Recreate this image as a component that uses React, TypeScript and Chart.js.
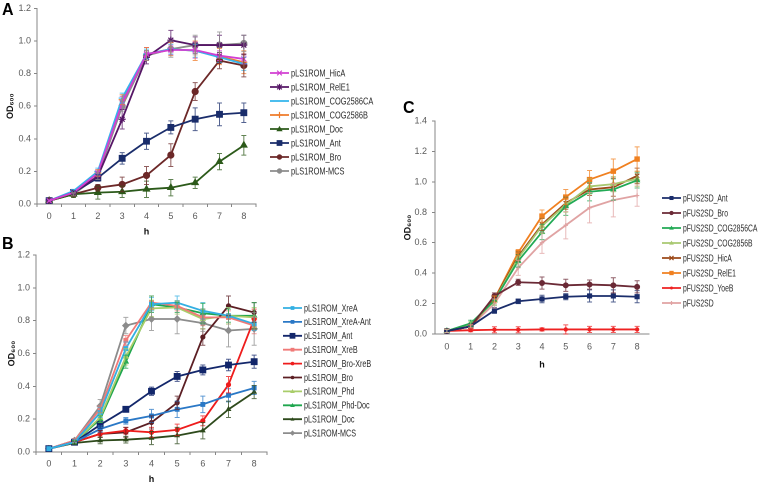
import React, { useEffect, useRef } from "react";
import { Chart, registerables } from "chart.js";

Chart.register(...registerables);

const FONT = '"Liberation Sans", Arial, Helvetica, sans-serif';

// ---------- shared categories ----------
const hours = ["0", "1", "2", "3", "4", "5", "6", "7", "8"];

// ---------- Panel A ----------
const aHicA = [0.02, 0.07, 0.19, 0.62, 0.92, 0.945, 0.945, 0.91, 0.89];
const aHicAErr = [0, 0.01, 0.02, 0.04, 0.04, 0.03, 0.05, 0.03, 0.03];
const aRelE1 = [0.02, 0.07, 0.17, 0.52, 0.9, 1.005, 0.975, 0.975, 0.975];
const aRelE1Err = [0, 0.01, 0.02, 0.06, 0.04, 0.06, 0.05, 0.06, 0.06];
const aCOG2586CA = [0.02, 0.08, 0.2, 0.65, 0.92, 0.95, 0.94, 0.9, 0.86];
const aCOG2586CAErr = [0, 0.01, 0.02, 0.03, 0.03, 0.03, 0.04, 0.03, 0.04];
const aCOG2586B = [0.02, 0.07, 0.19, 0.64, 0.92, 0.95, 0.94, 0.905, 0.87];
const aCOG2586BErr = [0, 0.01, 0.02, 0.03, 0.04, 0.04, 0.06, 0.05, 0.07];
const aDoc = [0.02, 0.06, 0.07, 0.075, 0.09, 0.1, 0.13, 0.26, 0.36];
const aDocErr = [0, 0.02, 0.04, 0.035, 0.05, 0.05, 0.035, 0.05, 0.06];
const aAnt = [0.02, 0.07, 0.16, 0.28, 0.385, 0.47, 0.52, 0.55, 0.56];
const aAntErr = [0, 0.01, 0.02, 0.035, 0.05, 0.04, 0.07, 0.07, 0.06];
const aBro = [0.02, 0.06, 0.1, 0.12, 0.175, 0.3, 0.69, 0.88, 0.85];
const aBroErr = [0, 0.01, 0.02, 0.045, 0.055, 0.07, 0.055, 0.05, 0.07];
const aMCS = [0.02, 0.06, 0.17, 0.6, 0.91, 0.95, 0.975, 0.975, 0.985];
const aMCSErr = [0, 0.01, 0.02, 0.03, 0.03, 0.05, 0.06, 0.08, 0.05];

// ---------- Panel B ----------
const bXreA = [0.02, 0.06, 0.24, 0.63, 0.9, 0.91, 0.86, 0.83, 0.78];
const bXreAErr = [0, 0.01, 0.03, 0.04, 0.04, 0.04, 0.05, 0.05, 0.04];
const bXreAAnt = [0.02, 0.06, 0.14, 0.19, 0.22, 0.26, 0.29, 0.345, 0.39];
const bXreAAntErr = [0, 0.01, 0.02, 0.02, 0.04, 0.05, 0.05, 0.04, 0.04];
const bAnt = [0.02, 0.06, 0.165, 0.26, 0.37, 0.46, 0.5, 0.53, 0.55];
const bAntErr = [0, 0.01, 0.02, 0.015, 0.025, 0.03, 0.03, 0.035, 0.04];
const bXreB = [0.02, 0.07, 0.26, 0.68, 0.91, 0.89, 0.82, 0.82, 0.77];
const bXreBErr = [0, 0.01, 0.02, 0.03, 0.04, 0.03, 0.05, 0.04, 0.05];
const bBroXreB = [0.02, 0.06, 0.11, 0.13, 0.12, 0.135, 0.19, 0.41, 0.81];
const bBroXreBErr = [0, 0.01, 0.02, 0.02, 0.03, 0.035, 0.03, 0.05, 0.06];
const bBro = [0.02, 0.06, 0.11, 0.12, 0.18, 0.3, 0.7, 0.89, 0.85];
const bBroErr = [0, 0.01, 0.02, 0.03, 0.04, 0.04, 0.05, 0.06, 0.06];
const bPhd = [0.02, 0.06, 0.21, 0.58, 0.875, 0.88, 0.81, 0.83, 0.82];
const bPhdErr = [0, 0.01, 0.03, 0.05, 0.05, 0.04, 0.06, 0.05, 0.06];
const bPhdDoc = [0.02, 0.06, 0.2, 0.55, 0.9, 0.88, 0.845, 0.83, 0.83];
const bPhdDocErr = [0, 0.01, 0.02, 0.04, 0.05, 0.03, 0.06, 0.04, 0.08];
const bDoc = [0.02, 0.055, 0.07, 0.075, 0.085, 0.1, 0.13, 0.26, 0.365];
const bDocErr = [0, 0.01, 0.02, 0.02, 0.04, 0.05, 0.05, 0.05, 0.04];
const bMCS = [0.02, 0.07, 0.28, 0.77, 0.81, 0.81, 0.785, 0.74, 0.75];
const bMCSErr = [0, 0.01, 0.04, 0.05, 0.07, 0.09, 0.05, 0.1, 0.1];

// ---------- Panel C ----------
const cAnt = [0.02, 0.05, 0.155, 0.215, 0.23, 0.245, 0.25, 0.25, 0.245];
const cAntErr = [0, 0.01, 0.02, 0.015, 0.025, 0.02, 0.04, 0.04, 0.04];
const cBro = [0.02, 0.05, 0.25, 0.34, 0.335, 0.32, 0.325, 0.32, 0.31];
const cBroErr = [0, 0.01, 0.02, 0.02, 0.04, 0.04, 0.03, 0.05, 0.04];
const cCOG2856CA = [0.02, 0.07, 0.22, 0.48, 0.67, 0.84, 0.935, 0.95, 1.01];
const cCOG2856CAErr = [0.01, 0.02, 0.03, 0.04, 0.05, 0.06, 0.06, 0.07, 0.05];
const cCOG2856B = [0.02, 0.06, 0.22, 0.5, 0.71, 0.85, 0.97, 0.985, 1.02];
const cCOG2856BErr = [0.01, 0.02, 0.03, 0.04, 0.05, 0.05, 0.05, 0.05, 0.05];
const cHicA = [0.02, 0.05, 0.23, 0.51, 0.72, 0.86, 0.95, 0.965, 1.04];
const cHicAErr = [0, 0.01, 0.02, 0.03, 0.04, 0.04, 0.04, 0.06, 0.05];
const cRelE1 = [0.02, 0.05, 0.23, 0.535, 0.775, 0.9, 1.015, 1.07, 1.15];
const cRelE1Err = [0, 0.01, 0.02, 0.02, 0.04, 0.05, 0.06, 0.08, 0.08];
const cYoeB = [0.02, 0.025, 0.028, 0.028, 0.03, 0.03, 0.03, 0.03, 0.03];
const cYoeBErr = [0, 0.01, 0.02, 0.02, 0.01, 0.03, 0.02, 0.02, 0.02];
const cFUS2SD = [0.02, 0.05, 0.2, 0.435, 0.6, 0.715, 0.83, 0.88, 0.91];
const cFUS2SDErr = [0.01, 0.01, 0.03, 0.05, 0.07, 0.09, 0.1, 0.11, 0.07];

type Style = "circle" | "rect" | "rectRot" | "triangle" | "cross" | "crossRot" | "star" | "line" | "dash";

interface Series {
  label: string;
  data: number[];
  errors: number[];
  color: string;
  style: Style;
  r: number;
}

function s(label: string, data: number[], errors: number[], color: string, style: Style, r: number): Series {
  return { label, data, errors, color, style, r };
}

const seriesA: Series[] = [
  s("pLS1ROM_HicA", aHicA, aHicAErr, "#d23fd2", "crossRot", 3.5),
  s("pLS1ROM_RelE1", aRelE1, aRelE1Err, "#561766", "star", 3.5),
  s("pLS1ROM_COG2586CA", aCOG2586CA, aCOG2586CAErr, "#33b5ec", "line", 3.5),
  s("pLS1ROM_COG2586B", aCOG2586B, aCOG2586BErr, "#ef7c2b", "cross", 3.5),
  s("pLS1ROM_Doc", aDoc, aDocErr, "#2c5a1a", "triangle", 3.5),
  s("pLS1ROM_Ant", aAnt, aAntErr, "#1a2d6b", "rect", 4),
  s("pLS1ROM_Bro", aBro, aBroErr, "#6c2828", "circle", 3),
  s("pLS1ROM-MCS", aMCS, aMCSErr, "#8c8c8c", "circle", 3),
];

const seriesB: Series[] = [
  s("pLS1ROM_XreA", bXreA, bXreAErr, "#33afe2", "rect", 2.6),
  s("pLS1ROM_XreA-Ant", bXreAAnt, bXreAAntErr, "#2a78c6", "rect", 2.6),
  s("pLS1ROM_Ant", bAnt, bAntErr, "#13276b", "rect", 4),
  s("pLS1ROM_XreB", bXreB, bXreBErr, "#f07a78", "rect", 2.6),
  s("pLS1ROM_Bro-XreB", bBroXreB, bBroXreBErr, "#ee1c1c", "circle", 2),
  s("pLS1ROM_Bro", bBro, bBroErr, "#5c1f24", "circle", 2),
  s("pLS1ROM_Phd", bPhd, bPhdErr, "#a9cd6a", "triangle", 2.6),
  s("pLS1ROM_Phd-Doc", bPhdDoc, bPhdDocErr, "#1fa64e", "triangle", 2.6),
  s("pLS1ROM_Doc", bDoc, bDocErr, "#2e4a1c", "triangle", 2.2),
  s("pLS1ROM-MCS", bMCS, bMCSErr, "#8c8c8c", "rectRot", 3),
];

const seriesC: Series[] = [
  s("pFUS2SD_Ant", cAnt, cAntErr, "#1a2d6b", "rect", 2.8),
  s("pFUS2SD_Bro", cBro, cBroErr, "#6b2a36", "circle", 2.4),
  s("pFUS2SD_COG2856CA", cCOG2856CA, cCOG2856CAErr, "#22aa55", "triangle", 2.6),
  s("pFUS2SD_COG2856B", cCOG2856B, cCOG2856BErr, "#a8c870", "triangle", 2.6),
  s("pFUS2SD_HicA", cHicA, cHicAErr, "#9c4a1a", "crossRot", 3),
  s("pFUS2SD_RelE1", cRelE1, cRelE1Err, "#f08020", "rect", 3),
  s("pFUS2SD_YoeB", cYoeB, cYoeBErr, "#ee2222", "circle", 1.6),
  s("pFUS2SD", cFUS2SD, cFUS2SDErr, "#e0a3a3", "cross", 2.2),
];

const errorBarPlugin = {
  id: "errorBars",
  afterDatasetsDraw(chart: any) {
    const ctx = chart.ctx;
    const y = chart.scales.y;
    chart.data.datasets.forEach((ds: any, i: number) => {
      const meta = chart.getDatasetMeta(i);
      const errs: number[] = ds.errors;
      if (!errs) return;
      ctx.save();
      ctx.strokeStyle = ds.borderColor;
      ctx.globalAlpha = 0.75;
      ctx.lineWidth = 1;
      meta.data.forEach((pt: any, j: number) => {
        const e = errs[j];
        if (!e) return;
        const v = ds.data[j];
        const yt = y.getPixelForValue(v + e);
        const yb = y.getPixelForValue(Math.max(v - e, 0));
        const x = pt.x;
        ctx.beginPath();
        ctx.moveTo(x, yt);
        ctx.lineTo(x, yb);
        ctx.moveTo(x - 2.5, yt);
        ctx.lineTo(x + 2.5, yt);
        ctx.moveTo(x - 2.5, yb);
        ctx.lineTo(x + 2.5, yb);
        ctx.stroke();
      });
      ctx.restore();
    });
  },
};

function drawMarker(ctx: CanvasRenderingContext2D, style: Style, x: number, y: number, r: number, color: string) {
  ctx.save();
  ctx.fillStyle = color;
  ctx.strokeStyle = color;
  ctx.lineWidth = 1.2;
  ctx.beginPath();
  switch (style) {
    case "circle":
      ctx.arc(x, y, r, 0, Math.PI * 2);
      ctx.fill();
      break;
    case "rect": {
      const h = r * 0.8;
      ctx.fillRect(x - h, y - h, 2 * h, 2 * h);
      break;
    }
    case "rectRot":
      ctx.moveTo(x, y - r);
      ctx.lineTo(x + r, y);
      ctx.lineTo(x, y + r);
      ctx.lineTo(x - r, y);
      ctx.closePath();
      ctx.fill();
      break;
    case "triangle":
      ctx.moveTo(x, y - r);
      ctx.lineTo(x + r, y + r * 0.7);
      ctx.lineTo(x - r, y + r * 0.7);
      ctx.closePath();
      ctx.fill();
      break;
    case "cross":
      ctx.moveTo(x - r, y);
      ctx.lineTo(x + r, y);
      ctx.moveTo(x, y - r);
      ctx.lineTo(x, y + r);
      ctx.stroke();
      break;
    case "crossRot": {
      const d = r * 0.75;
      ctx.moveTo(x - d, y - d);
      ctx.lineTo(x + d, y + d);
      ctx.moveTo(x - d, y + d);
      ctx.lineTo(x + d, y - d);
      ctx.stroke();
      break;
    }
    case "star": {
      const d = r * 0.75;
      ctx.moveTo(x - d, y - d);
      ctx.lineTo(x + d, y + d);
      ctx.moveTo(x - d, y + d);
      ctx.lineTo(x + d, y - d);
      ctx.moveTo(x, y - r);
      ctx.lineTo(x, y + r);
      ctx.stroke();
      break;
    }
    default:
      break;
  }
  ctx.restore();
}

interface LegendCfg {
  x: number; // page coords of symbol start
  y0: number; // page coords of first item centre
  step: number;
  squeeze: number;
}

interface PanelCfg {
  left: number;
  top: number;
  width: number;
  height: number;
  plotRight: number; // page x of plot right edge
  yMax: number;
  yWidth: number;
  xHeight: number;
  padTop: number;
  xTickLen: number;
  xTickPad: number;
  xTitlePadBottom: number;
  yTitlePadTop: number;
  yTickPad: number;
  series: Series[];
  legend: LegendCfg;
}

const AXIS = "#868686";
const TICK = "#595959";

function makeLegendPlugin(cfg: PanelCfg) {
  return {
    id: "sideLegend",
    afterDraw(chart: any) {
      const ctx: CanvasRenderingContext2D = chart.ctx;
      const L = cfg.legend;
      cfg.series.forEach((se, i) => {
        const cy = L.y0 + i * L.step - cfg.top;
        const x0 = L.x - cfg.left;
        ctx.save();
        ctx.strokeStyle = se.color;
        ctx.lineWidth = 1.8;
        ctx.beginPath();
        ctx.moveTo(x0, cy);
        ctx.lineTo(x0 + 19, cy);
        ctx.stroke();
        ctx.restore();
        drawMarker(ctx, se.style, x0 + 9.5, cy, se.r * 0.9, se.color);
        ctx.save();
        ctx.translate(x0 + 21, cy);
        ctx.scale(L.squeeze, 1);
        ctx.font = `10px ${FONT}`;
        ctx.fillStyle = "#2a2a2a";
        ctx.textBaseline = "middle";
        ctx.textAlign = "left";
        ctx.fillText(se.label, 0, 0.5);
        ctx.restore();
      });
    },
  };
}

function Panel({ cfg }: { cfg: PanelCfg }) {
  const ref = useRef<HTMLCanvasElement | null>(null);
  useEffect(() => {
    if (!ref.current) return;
    const chart = new Chart(ref.current, {
      type: "line",
      data: {
        labels: hours,
        datasets: cfg.series.map((se) => ({
          label: se.label,
          data: se.data,
          errors: se.errors,
          borderColor: se.color,
          backgroundColor: se.color,
          pointBackgroundColor: se.color,
          pointBorderColor: se.color,
          pointStyle: se.style,
          pointRadius: se.r,
          pointBorderWidth: 1.2,
          borderWidth: 1.8,
          tension: 0,
        })) as any,
      },
      options: {
        responsive: false,
        animation: false,
        devicePixelRatio: 2,
        layout: {
          padding: {
            left: 0,
            top: cfg.padTop,
            right: cfg.left + cfg.width - cfg.plotRight,
            bottom: 0,
          },
        },
        plugins: { legend: { display: false }, tooltip: { enabled: false } },
        scales: {
          x: {
            type: "category",
            offset: true,
            grid: {
              display: cfg.xTickLen > 0,
              drawOnChartArea: false,
              drawTicks: true,
              tickLength: cfg.xTickLen,
              offset: true,
              color: AXIS,
            },
            border: { display: true, color: AXIS, width: 1 },
            ticks: {
              font: { family: FONT, size: 9 },
              color: TICK,
              padding: cfg.xTickPad,
              maxRotation: 0,
              autoSkip: false,
            },
            title: {
              display: true,
              text: "h",
              font: { family: FONT, size: 9, weight: "bold" },
              color: "#111",
              padding: { top: 0, bottom: cfg.xTitlePadBottom },
            },
            afterFit: (sc: any) => {
              sc.height = cfg.xHeight;
            },
          },
          y: {
            min: 0,
            max: cfg.yMax,
            grid: { drawOnChartArea: false, drawTicks: true, tickLength: 3, color: AXIS },
            border: { display: true, color: AXIS, width: 1 },
            ticks: {
              stepSize: 0.2,
              font: { family: FONT, size: 9 },
              color: TICK,
              padding: cfg.yTickPad,
              callback: (v: any) => Number(v).toFixed(1),
            },
            title: {
              display: true,
              text: "OD₆₀₀",
              font: { family: FONT, size: 9, weight: "bold" },
              color: "#111",
              padding: { top: cfg.yTitlePadTop, bottom: 0 },
            },
            afterFit: (sc: any) => {
              sc.width = cfg.yWidth;
            },
          },
        },
      } as any,
      plugins: [errorBarPlugin, makeLegendPlugin(cfg)],
    });
    return () => chart.destroy();
  }, [cfg]);
  return (
    <canvas
      ref={ref}
      width={cfg.width}
      height={cfg.height}
      style={{ position: "absolute", left: cfg.left, top: cfg.top, width: cfg.width, height: cfg.height }}
    />
  );
}

const cfgA: PanelCfg = {
  left: 0,
  top: 0,
  width: 385,
  height: 240,
  plotRight: 256,
  yMax: 1.2,
  yWidth: 37,
  xHeight: 36,
  padTop: 7,
  xTickLen: 3,
  xTickPad: 4,
  xTitlePadBottom: 2.6,
  yTitlePadTop: 5,
  yTickPad: 3,
  series: seriesA,
  legend: { x: 270, y0: 73, step: 14, squeeze: 0.74 },
};

const cfgB: PanelCfg = {
  left: 0,
  top: 235,
  width: 385,
  height: 250,
  plotRight: 267,
  yMax: 1.2,
  yWidth: 36,
  xHeight: 33,
  padTop: 20,
  xTickLen: 3,
  xTickPad: 3.6,
  xTitlePadBottom: 0,
  yTitlePadTop: 6.6,
  yTickPad: 3,
  series: seriesB,
  legend: { x: 283, y0: 308, step: 13.9, squeeze: 0.72 },
};

const cfgC: PanelCfg = {
  left: 390,
  top: 100,
  width: 377,
  height: 275,
  plotRight: 649,
  yMax: 1.4,
  yWidth: 45,
  xHeight: 41,
  padTop: 21,
  xTickLen: 0,
  xTickPad: 7.6,
  xTitlePadBottom: 4.6,
  yTitlePadTop: 12.6,
  yTickPad: 5,
  series: seriesC,
  legend: { x: 662, y0: 198, step: 15, squeeze: 0.68 },
};

const letterStyle: React.CSSProperties = {
  position: "absolute",
  fontFamily: FONT,
  fontWeight: "bold",
  fontSize: 16,
  lineHeight: "16px",
  color: "#000",
};

export default function App() {
  return (
    <div
      style={{
        position: "absolute",
        left: 0,
        top: 0,
        width: 767,
        height: 485,
        background: "#fff",
        overflow: "hidden",
      }}
    >
      <Panel cfg={cfgA} />
      <Panel cfg={cfgB} />
      <Panel cfg={cfgC} />
      <div style={{ ...letterStyle, left: 2, top: 1.5 }}>A</div>
      <div style={{ ...letterStyle, left: 2, top: 235.5 }}>B</div>
      <div style={{ ...letterStyle, left: 403, top: 99.5 }}>C</div>
    </div>
  );
}
